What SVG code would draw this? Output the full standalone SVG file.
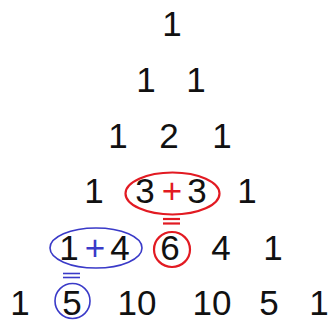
<svg xmlns="http://www.w3.org/2000/svg" width="328" height="322" viewBox="0 0 328 322">
<style>
text{font-family:"Liberation Sans",Arial,sans-serif;font-size:35px;text-anchor:middle;fill:#111}
.r{fill:#e21a22}
.b{fill:#3a3ac8}
.er{fill:none;stroke:#e21a22;stroke-width:2.2}
.eb{fill:none;stroke:#3a3ac8;stroke-width:1.6}
</style>
<rect width="328" height="322" fill="#fff"/>
<g id="row1"><text x="172" y="36">1</text></g>
<g id="row2"><text x="146" y="92">1</text><text x="196" y="92">1</text></g>
<g id="row3"><text x="118" y="148">1</text><text x="169" y="148">2</text><text x="222" y="148">1</text></g>
<g id="row4"><text x="94" y="203">1</text><text x="145" y="203">3</text><text class="r" x="172" y="203">+</text><text x="197" y="203">3</text><text x="247" y="203">1</text></g>
<g id="row5"><text x="69" y="260">1</text><text class="b" x="95" y="260">+</text><text x="120" y="260">4</text><text x="170" y="260">6</text><text x="221" y="260">4</text><text x="273" y="260">1</text></g>
<g id="row6"><text x="20" y="314.5">1</text><text x="72" y="314.5">5</text><text x="137" y="314.5">10</text><text x="212" y="314.5">10</text><text x="269" y="314.5">5</text><text x="319" y="314.5">1</text></g>
<g id="connectors">
<ellipse class="er" cx="172.5" cy="193.5" rx="47" ry="21"/>
<line class="er" x1="163" y1="219" x2="180" y2="219"/>
<line class="er" x1="163" y1="223.5" x2="180" y2="223.5"/>
<ellipse class="er" cx="172" cy="249.5" rx="18" ry="17.5"/>
<ellipse class="eb" cx="96" cy="248" rx="46" ry="20"/>
<line class="eb" x1="63" y1="273.5" x2="80" y2="273.5"/>
<line class="eb" x1="63" y1="277.5" x2="80" y2="277.5"/>
<ellipse class="eb" cx="72.5" cy="301" rx="17.5" ry="17.5"/>
</g>
</svg>
